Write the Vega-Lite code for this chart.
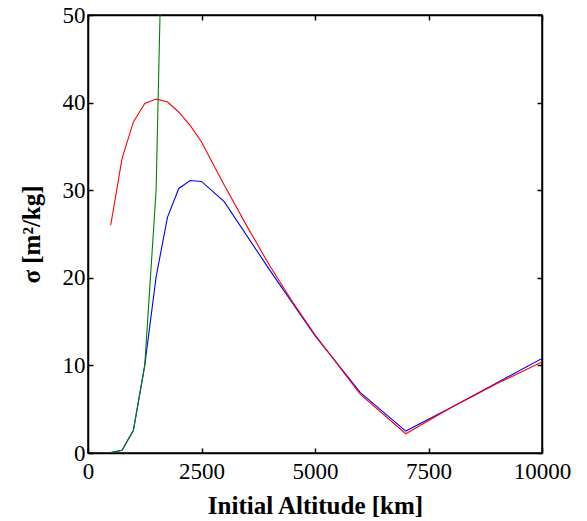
{
  "$schema": "https://vega.github.io/schema/vega-lite/v6.json",
  "width": 454,
  "height": 438,
  "autosize": {"type": "none"},
  "padding": {"left": 88, "top": 15, "right": 45, "bottom": 68},
  "config": {
    "view": {"stroke": "black", "strokeWidth": 1.5},
    "axis": {"grid": false, "domainColor": "black", "domainWidth": 1.5, "tickColor": "black", "tickWidth": 1.5, "labelFont": "Liberation Serif", "labelFontSize": 23, "labelColor": "black", "titleFont": "Liberation Serif", "titleColor": "black", "titleFontWeight": "bold"}
  },
  "data": {"values": [
    {"alt": 500, "sigma": 0.05, "s": "a"},
    {"alt": 750, "sigma": 0.3, "s": "a"},
    {"alt": 1000, "sigma": 2.6, "s": "a"},
    {"alt": 1250, "sigma": 10.0, "s": "a"},
    {"alt": 1500, "sigma": 20.1, "s": "a"},
    {"alt": 1750, "sigma": 26.9, "s": "a"},
    {"alt": 2000, "sigma": 30.2, "s": "a"},
    {"alt": 2250, "sigma": 31.1, "s": "a"},
    {"alt": 2500, "sigma": 31.0, "s": "a"},
    {"alt": 3000, "sigma": 28.7, "s": "a"},
    {"alt": 4000, "sigma": 20.9, "s": "a"},
    {"alt": 5000, "sigma": 13.4, "s": "a"},
    {"alt": 6000, "sigma": 6.9, "s": "a"},
    {"alt": 7000, "sigma": 2.5, "s": "a"},
    {"alt": 8000, "sigma": 5.2, "s": "a"},
    {"alt": 9000, "sigma": 8.0, "s": "a"},
    {"alt": 10000, "sigma": 10.8, "s": "a"},
    {"alt": 500, "sigma": 26.0, "s": "b"},
    {"alt": 750, "sigma": 33.6, "s": "b"},
    {"alt": 1000, "sigma": 37.8, "s": "b"},
    {"alt": 1250, "sigma": 39.9, "s": "b"},
    {"alt": 1500, "sigma": 40.4, "s": "b"},
    {"alt": 1750, "sigma": 40.1, "s": "b"},
    {"alt": 2000, "sigma": 38.9, "s": "b"},
    {"alt": 2250, "sigma": 37.4, "s": "b"},
    {"alt": 2500, "sigma": 35.5, "s": "b"},
    {"alt": 3000, "sigma": 30.6, "s": "b"},
    {"alt": 3500, "sigma": 25.9, "s": "b"},
    {"alt": 4000, "sigma": 21.4, "s": "b"},
    {"alt": 4500, "sigma": 17.3, "s": "b"},
    {"alt": 5000, "sigma": 13.5, "s": "b"},
    {"alt": 6000, "sigma": 6.7, "s": "b"},
    {"alt": 7000, "sigma": 2.2, "s": "b"},
    {"alt": 8000, "sigma": 5.2, "s": "b"},
    {"alt": 9000, "sigma": 7.9, "s": "b"},
    {"alt": 10000, "sigma": 10.4, "s": "b"},
    {"alt": 500, "sigma": 0.05, "s": "c"},
    {"alt": 750, "sigma": 0.3, "s": "c"},
    {"alt": 1000, "sigma": 2.6, "s": "c"},
    {"alt": 1250, "sigma": 10.0, "s": "c"},
    {"alt": 1500, "sigma": 30.0, "s": "c"},
    {"alt": 1750, "sigma": 88.0, "s": "c"}
  ]},
  "layer": [
    {
      "mark": {"type": "line", "strokeWidth": 1.1, "clip": true},
      "encoding": {
        "x": {"field": "alt", "type": "quantitative", "scale": {"domain": [0, 10000], "nice": false},
              "axis": {"values": [0, 2500, 5000, 7500, 10000], "format": "d", "tickSize": -5, "labelPadding": 12, "title": "Initial Altitude [km]", "titleFontSize": 25, "titlePadding": 10, "labelFlush": false}},
        "y": {"field": "sigma", "type": "quantitative", "scale": {"domain": [0, 50], "nice": false},
              "axis": {"values": [0, 10, 20, 30, 40, 50], "format": "d", "tickSize": -5, "labelPadding": 8, "title": "σ [m²/kg]", "titleFontSize": 25, "titlePadding": 18, "labelFlush": false}},
        "color": {"field": "s", "type": "nominal", "scale": {"domain": ["a", "b", "c"], "range": ["#0000ff", "#ff0000", "#008000"]}, "legend": null}
      }
    },
    {
      "mark": {"type": "line", "strokeOpacity": 0, "clip": true},
      "encoding": {
        "x": {"field": "alt", "type": "quantitative", "scale": {"domain": [0, 10000], "nice": false},
              "axis": {"orient": "top", "values": [0, 2500, 5000, 7500, 10000], "tickSize": -5, "labels": false, "title": null}},
        "y": {"field": "sigma", "type": "quantitative", "scale": {"domain": [0, 50], "nice": false},
              "axis": {"orient": "right", "values": [0, 10, 20, 30, 40, 50], "tickSize": -5, "labels": false, "title": null}},
        "detail": {"field": "s"}
      }
    }
  ],
  "resolve": {"axis": {"x": "independent", "y": "independent"}}
}
